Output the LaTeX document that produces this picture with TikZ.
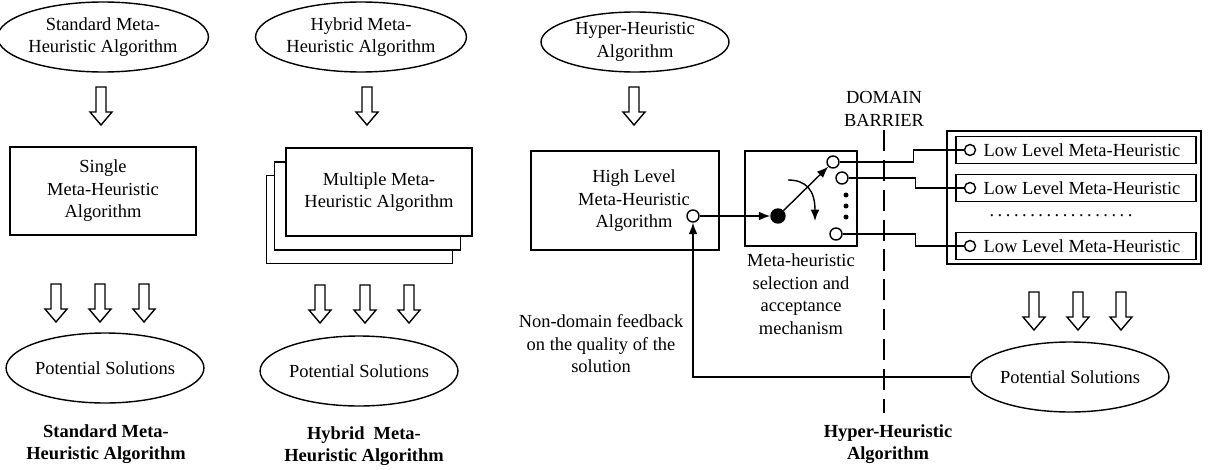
\documentclass[tikz,border=0pt]{standalone}
\usepackage{fontspec}
\setmainfont{Liberation Serif}
\usepackage{tikz}
\usetikzlibrary{shapes.geometric,arrows.meta}
\newcommand{\hollowdown}[2]{%
  \draw[fill=white] (#1-5,#2) -- (#1+5,#2) -- (#1+5,#2+25) -- (#1+11,#2+25) -- (#1,#2+38) -- (#1-11,#2+25) -- (#1-5,#2+25) -- cycle;}

\begin{document}
\begin{tikzpicture}[x=0.02cm,y=-0.02cm,line width=0.8pt,
    font=\fontsize{10.5}{12.8}\selectfont,
    oval/.style={draw,ellipse,minimum width=3.76cm,minimum height=1.4cm,inner sep=0pt,align=center},
    block/.style={draw,fill=white,inner sep=0pt,align=center},
    port/.style={draw,circle,fill=white,minimum size=0.24cm,inner sep=0pt},
    lowbox/.style={draw,minimum width=4.8cm,minimum height=0.54cm,inner sep=0pt},
    note/.style={align=center},
    heading/.style={align=center,font=\fontsize{10.5}{12.8}\selectfont\bfseries},
    tip/.style={-{Latex[length=6.5pt,width=5pt]}}]
            \useasboundingbox (0,0) rectangle (1208,470);
            % standard
            \node[oval] (stdalg) at (103,37) {Standard Meta-\\Heuristic Algorithm};
            \hollowdown{101}{87}
            \node[block,minimum width=3.72cm,minimum height=1.76cm] (single) at (103,191) {Single\\Meta-Heuristic\\Algorithm};
            \foreach \x in {56,100,144} {\hollowdown{\x}{284}}
            \node[oval] (stdsol) at (105,368) {Potential Solutions};
            \node[heading] (stdname) at (106,444) {Standard Meta-\\Heuristic Algorithm};
            % hybrid
            \node[oval] (hybalg) at (361,37) {Hybrid Meta-\\Heuristic Algorithm};
            \hollowdown{367}{87}
            \node[block,minimum width=3.72cm,minimum height=1.76cm] (multi3) at (359.5,219.5) {};
            \node[block,minimum width=3.72cm,minimum height=1.76cm] (multi2) at (367.5,206) {};
            \node[block,minimum width=3.72cm,minimum height=1.76cm] (multi1) at (379,192) {Multiple Meta-\\Heuristic Algorithm};
            \foreach \x in {320,365,409} {\hollowdown{\x}{285}}
            \node[oval] (hybsol) at (359,371) {Potential Solutions};
            \node[heading] (hybname) at (364,446) {Hybrid~ Meta-\\Heuristic Algorithm};
            % hyper
            \node[oval,minimum height=1.2cm] (hypalg) at (635,42) {Hyper-Heuristic\\Algorithm};
            \hollowdown{634}{87}
            \node[block,minimum width=3.76cm,minimum height=1.98cm] (high) at (625,200.5) {};
            \node[note] (hightext) at (634,201) {High Level\\Meta-Heuristic\\Algorithm};
            \node[port] (hlout) at (693,216) {};
            \node[block,minimum width=2.24cm,minimum height=1.9cm] (select) at (801,198.5) {};
            \node[draw,circle,fill,minimum size=0.28cm,inner sep=0pt] (pivot) at (778,216) {};
            \node[port] (sel1) at (833,162) {};
            \node[port] (sel2) at (842,178) {};
            \node[port] (sel3) at (836,234) {};
            \foreach \y in {195,206,217} {\fill (846,\y) circle (0.05cm);}
            \draw[tip] (hlout) -- (pivot);
            \draw[tip] (pivot) -- (sel1);
            \coordinate (swing) at (788,180);
            \draw[tip] (swing) .. controls (806,180) and (815,190) .. (815,221);
            \node[note] (selnote) at (801,294) {Meta-heuristic\\selection and\\acceptance\\mechanism};
            % domain barrier
            \coordinate (bartop) at (884,130);
            \coordinate (barbot) at (884,413);
            \draw[dash pattern=on 12pt off 5pt] (bartop) -- (barbot);
            \node[note] (barrier) at (884,109) {DOMAIN\\BARRIER};
            % low level pool
            \node[draw,line width=1.4pt,minimum width=5.08cm,minimum height=2.66cm] (pool) at (1074,197.5) {};
            \foreach \n/\y in {1/150,2/188,3/246} {
                \node[lowbox] (low\n) at (1076,\y) {};
                \node[port,minimum size=0.22cm] (lowin\n) at (970,\y) {};
                \node (lowtext\n) at (1082,\y) {Low Level Meta-Heuristic};
            }
            \node (lowdots) at (1061,216) {\foreach \i in {1,...,18}{.\hspace{2pt}}};
            \draw (sel1.east) -- ++(74,0) |- (lowin1.west);
            \draw (sel2.east) -- ++(67,0) |- (lowin2.west);
            \draw (sel3.east) -- ++(73,0) |- (lowin3.west);
            \foreach \x in {1034,1078,1121} {\hollowdown{\x}{292}}
            \node[oval] (hypsol) at (1070,377) {Potential Solutions};
            \draw[tip] (hypsol.west) -| (hlout.south);
            \node[note] (feedback) at (601,344) {Non-domain feedback\\on the quality of the\\solution};
            \node[heading] (hypname) at (888,444) {Hyper-Heuristic\\Algorithm};
        \end{tikzpicture}
\end{document}
